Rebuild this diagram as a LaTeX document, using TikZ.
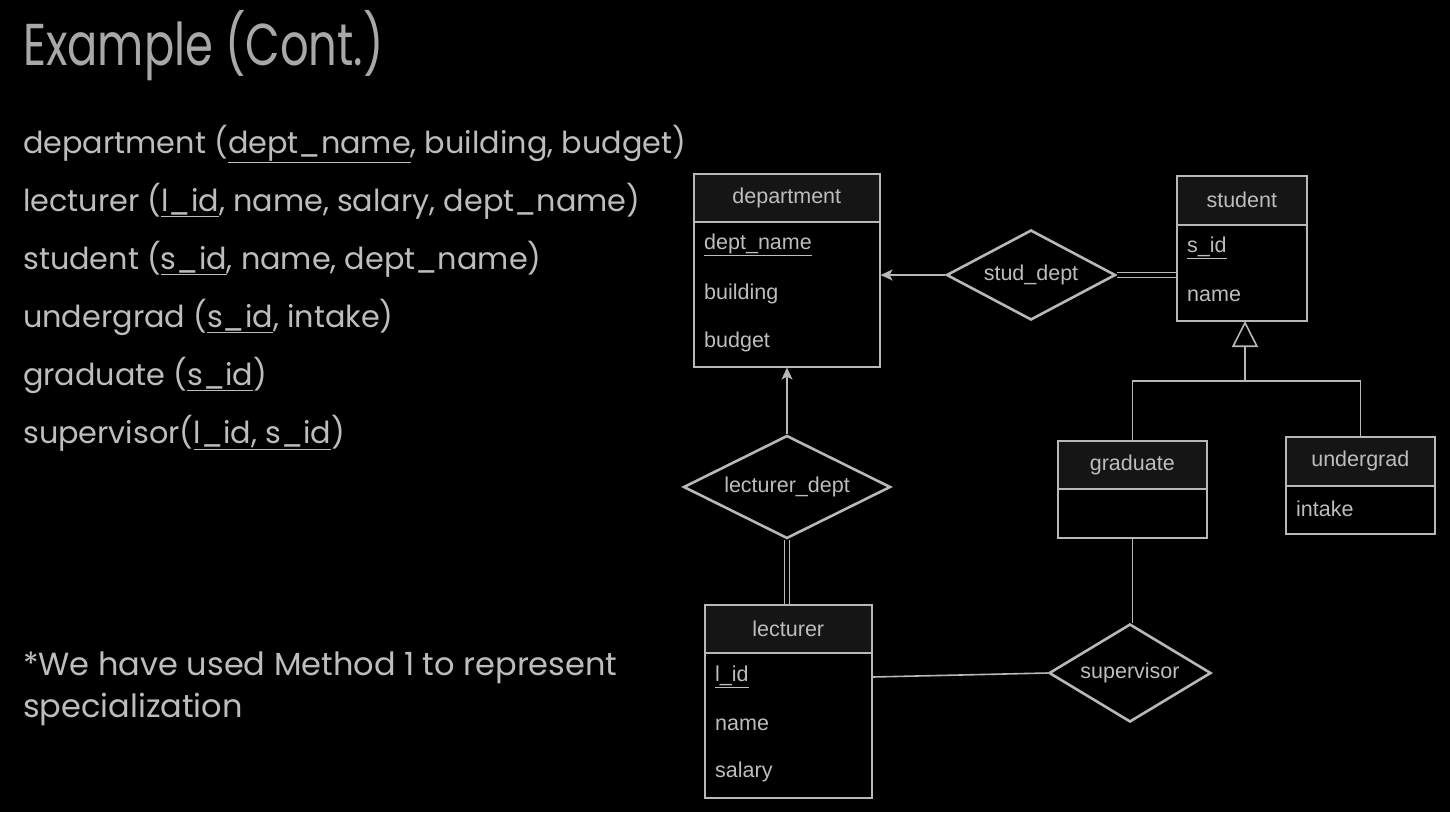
\documentclass[tikz,border=0pt]{standalone}
\usepackage{fontspec}
\setmainfont{Poppins}
\newfontfamily\titlefont[FakeStretch=0.76]{Poppins}
\newfontfamily\erfont{Liberation Sans}
\usetikzlibrary{shapes.geometric,arrows.meta}
\definecolor{ln}{HTML}{B8B8B8}
\definecolor{hd}{HTML}{151515}
\definecolor{ertxt}{HTML}{BDBDBD}
\definecolor{lefttxt}{HTML}{BDBDBD}
\definecolor{titletxt}{HTML}{A8A8A8}
\tikzset{
  erbox/.style={draw=ln, line width=1.6pt, inner sep=0pt, anchor=north west},
  hdrbox/.style={erbox, fill=hd, text=ertxt, font=\erfont\fontsize{21.5}{24}\selectfont},
  attr/.style={anchor=west, inner sep=0pt, text=ertxt, font=\erfont\fontsize{21.5}{24}\selectfont},
  rel/.style={diamond, aspect=2, draw=ln, line width=2.6pt, inner sep=0pt, fill=black, text=ertxt, font=\erfont\fontsize{21.5}{24}\selectfont},
  conn/.style={draw=ln, line width=1.6pt},
  dbl/.style={draw=ln, double=black, double distance=4pt, line width=1.4pt},
  arr/.style={conn, -{Stealth[length=12pt,width=11pt,inset=3pt]}},
  isa/.style={conn, -{Triangle[open,length=26pt,width=26pt,line width=1.6pt]}},
  lefttext/.style={anchor=base west, inner sep=0pt, text=lefttxt, font=\fontsize{30.3}{34}\selectfont},
  notetext/.style={anchor=base west, inner sep=0pt, text=lefttxt, font=\fontsize{32}{36}\selectfont},
}
\newcommand{\ul}[1]{\underline{#1}}
\begin{document}
\begin{tikzpicture}[x=1pt,y=-1pt]
\fill[black] (0,0) rectangle (1450,812);
\useasboundingbox (0,0) rectangle (1450,812);

% title and left text
\node[anchor=base west, inner sep=0pt, text=titletxt, font=\titlefont\fontsize{59}{64}\selectfont] (title) at (23,65) {Example (Cont.)};
\node[lefttext] (t1) at (23,153) {department (\ul{dept\_name}, building, budget)};
\node[lefttext] (t2) at (23,211) {lecturer (\ul{l\_id}, name, salary, dept\_name)};
\node[lefttext] (t3) at (23,269) {student (\ul{s\_id}, name, dept\_name)};
\node[lefttext] (t4) at (23,327) {undergrad (\ul{s\_id}, intake)};
\node[lefttext] (t5) at (23,385) {graduate (\ul{s\_id})};
\node[lefttext] (t6) at (23,443) {supervisor(\ul{l\_id, s\_id})};
\node[notetext] (n1) at (23,675) {*We have used Method 1 to represent};
\node[notetext] (n2) at (23,717) {specialization};

% department
\node[hdrbox, minimum width=186pt, minimum height=48pt] (deph) at (693,173) {department};
\node[erbox, minimum width=186pt, minimum height=145pt] (depb) at (693,221) {};
\node[attr] (dep1) at (704,245) {\ul{dept\_name}};
\node[attr] (dep2) at (704,294) {building};
\node[attr] (dep3) at (704,342) {budget};

% student
\node[hdrbox, minimum width=130pt, minimum height=49pt] (stuh) at (1176,175) {student};
\node[erbox, minimum width=130pt, minimum height=96pt] (stub) at (1176,224) {};
\node[attr] (stu1) at (1187,248) {\ul{s\_id}};
\node[attr] (stu2) at (1187,296) {name};

% graduate
\node[hdrbox, minimum width=149pt, minimum height=48pt] (grah) at (1057,440) {graduate};
\node[erbox, minimum width=149pt, minimum height=49pt] (grab) at (1057,488) {};

% undergrad
\node[hdrbox, minimum width=149pt, minimum height=49pt] (ugh) at (1285,436) {undergrad};
\node[erbox, minimum width=149pt, minimum height=48pt] (ugb) at (1285,485) {};
\node[attr] (ug1) at (1296,509) {intake};

% lecturer
\node[hdrbox, minimum width=167pt, minimum height=48pt] (lech) at (704,604) {lecturer};
\node[erbox, minimum width=167pt, minimum height=145pt] (lecb) at (704,652) {};
\node[attr] (lec1) at (715,677) {\ul{l\_id}};
\node[attr] (lec2) at (715,725) {name};
\node[attr] (lec3) at (715,772) {salary};

% relationships
\node[rel, minimum width=169pt, minimum height=90pt] (sd) at (1031,275) {stud\_dept};
\node[rel, minimum width=207pt, minimum height=103pt] (ld) at (787,487) {lecturer\_dept};
\node[rel, minimum width=162pt, minimum height=98pt] (sup) at (1130,673) {supervisor};

% connectors
\draw[arr] (sd.west) -- (sd.west -| depb.east);
\draw[dbl] (sd.east) -- (sd.east -| stub.west);
\draw[arr] (ld.north) -- (ld.north |- depb.south);
\draw[dbl] (ld.south) -- (ld.south |- lech.north);
\draw[conn] (lec1 -| lecb.east) -- (sup.west);
\draw[conn] (grab.south) -- (grab.south |- sup.north);

% specialization
\coordinate (br) at (1245,381);
\coordinate (isatop) at (1245,321);
\draw[conn] (grah.north) |- (br) -| (ugh.north);
\draw[isa] (br) -- (isatop);
\end{tikzpicture}
\end{document}
